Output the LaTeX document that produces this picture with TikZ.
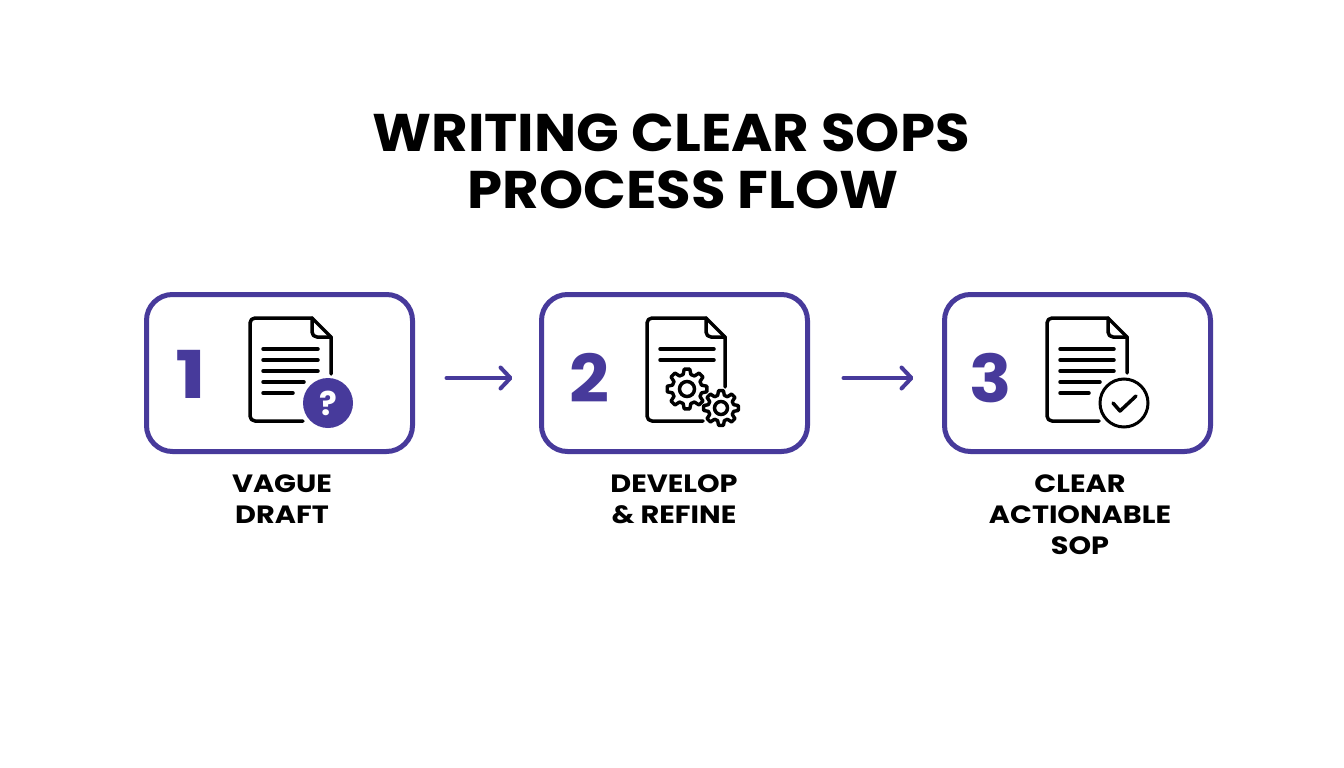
\documentclass[tikz,border=0pt]{standalone}
\usepackage{fontspec}
\setmainfont{Poppins}
\newfontfamily\widefont[FakeStretch=1.06]{Poppins}
\newfontfamily\capfont[FakeStretch=1.15]{Poppins}
\newfontfamily\onefont[FakeStretch=1.25]{Poppins}
\usetikzlibrary{arrows.meta}
\definecolor{brand}{HTML}{473A9B}
\tikzset{
  cardbox/.style={draw=brand,line width=5pt,rounded corners=26pt,minimum width=266pt,minimum height=157pt,outer sep=0pt,inner sep=0pt},
  flowarrow/.style={draw=brand,line width=4pt,line cap=round,-{Straight Barb[length=10pt,width=21pt,line width=4pt,round]}},
  numeral/.style={text=brand,font=\fontsize{66}{66}\widefont\bfseries,inner sep=0pt},
  caption/.style={align=center,font=\fontsize{25}{31}\capfont\bfseries,inner sep=0pt,text=black},
  titletext/.style={align=center,font=\fontsize{53}{57}\widefont\bfseries,inner sep=0pt,text=black},
  ink/.style={draw=black,line width=3.5pt,line cap=round,line join=round},
  gearline/.style={draw=black,line width=3.4pt,line join=round,fill=white},
}
\newcommand{\gearshape}[5]{%
  \begin{scope}[shift={(#1,#2)}]
    \draw[gearline] (-15:#4)
    \foreach \a in {0,45,...,315} { -- (\a-15:#4) -- (\a-8:#3) -- (\a+8:#3) -- (\a+15:#4) }
    -- cycle;
    \draw[draw=black,line width=3.5pt] (0,0) circle[radius=#5];
  \end{scope}}
\begin{document}
\begin{tikzpicture}[x=1pt,y=-1pt]
\useasboundingbox (0,0) rectangle (1344,768);
\fill[white] (0,0) rectangle (1344,768);
\node[titletext] (title) at (677,161) {WRITING CLEAR SOPS\hspace*{12pt}\\\hspace*{12pt}PROCESS FLOW};
\node[cardbox] (box1) at (279.5,373) {};
\node[cardbox] (box2) at (674.5,373) {};
\node[cardbox] (box3) at (1077.5,373) {};
\draw[flowarrow,shorten <=34pt,shorten >=29pt] ([yshift=-5pt]box1.east) -- ([yshift=-5pt]box2.west);
\draw[flowarrow,shorten <=36pt,shorten >=31pt] ([yshift=-5pt]box2.east) -- ([yshift=-5pt]box3.west);
\node[numeral,font=\fontsize{66}{66}\onefont\bfseries] (n1) at (191,374) {1};
\node[numeral] (n2) at (589,378) {2};
\node[numeral] (n3) at (991,378) {3};
\node[caption] (c1) at (282,499.5) {VAGUE\\DRAFT};
\node[caption] (c2) at (674,499.5) {DEVELOP\\\& REFINE};
\node[caption] (c3) at (1080,515) {CLEAR\\ACTIONABLE\\SOP};
% document 1
\draw[ink] (331,374) -- (331,337) -- (312,318) [rounded corners=5pt] -- (250,318) -- (250,421) -- (303,421);
\draw[ink,rounded corners=5pt] (312,318) -- (312,337) -- (331,337);
\foreach \y/\e in {349/318,360/318,371/318,382/304,393/293} \draw[ink] (263,\y) -- (\e,\y);
\node[circle,fill=brand,minimum size=50pt,inner sep=0pt,text=white,font=\fontsize{33}{33}\selectfont\bfseries] (q) at (328,403) {?};
% document 2
\draw[ink] (725,387) -- (725,337) -- (706,318) [rounded corners=5pt] -- (647,318) -- (647,421) -- (703,421);
\draw[ink,rounded corners=5pt] (706,318) -- (706,337) -- (725,337);
\foreach \y in {349,360} \draw[ink] (660,\y) -- (714,\y);
\gearshape{687}{389}{20}{15}{7.5}
\gearshape{721}{408}{17.5}{13}{6.5}
% document 3
\draw[ink] (1127,373) -- (1127,337) -- (1108,318) [rounded corners=5pt] -- (1047,318) -- (1047,421) -- (1099,421);
\draw[ink,rounded corners=5pt] (1108,318) -- (1108,337) -- (1127,337);
\foreach \y/\e in {349/1114,360/1114,371/1114,382/1100,393/1089} \draw[ink] (1060,\y) -- (\e,\y);
\node[circle,draw=black,fill=white,line width=3pt,minimum size=48pt,inner sep=0pt] (ok) at (1124,403) {};
\draw[ink] (1113,403) -- (1120,411) -- (1136,396);
\end{tikzpicture}
\end{document}
